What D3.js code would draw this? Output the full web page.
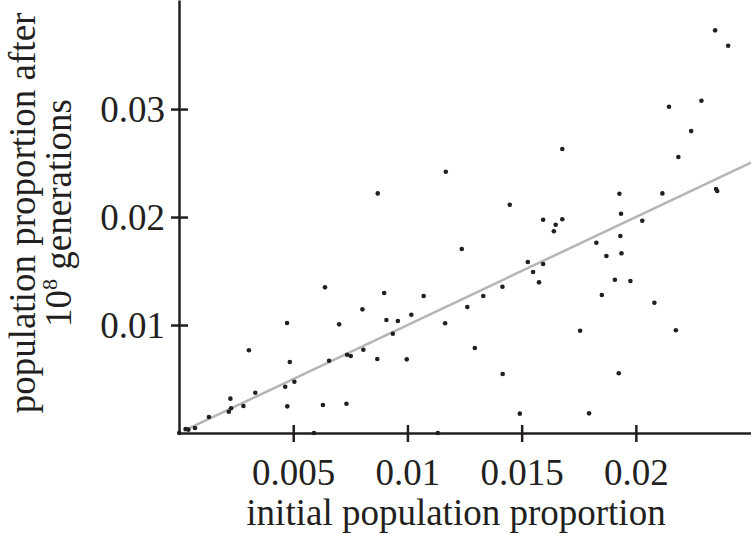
<!DOCTYPE html>
<html>
<head>
<meta charset="utf-8">
<script src="https://cdn.jsdelivr.net/npm/d3@7"></script>
<style>
  body { margin: 0; background: #fff; }
  svg text { font-family: "Liberation Serif", "Times New Roman", serif; fill: #231f20; }
</style>
</head>
<body>
<div id="chart"></div>
<script>
(function(){
  'use strict';

  //------ data
  var initialProp = [
    0.00001, 0.00029, 0.00041, 0.00070, 0.00131, 0.00218, 0.00228, 0.00225, 0.00282, 0.00306,
    0.00334, 0.00465, 0.00474, 0.00473, 0.00485, 0.00505, 0.00591, 0.00630, 0.00639, 0.00657,
    0.00701, 0.00733, 0.00736, 0.00752, 0.00803, 0.00807, 0.00868, 0.00870, 0.00898, 0.00908,
    0.00936, 0.00958, 0.00997, 0.01017, 0.01071, 0.01133, 0.01165, 0.01168, 0.01238, 0.01262,
    0.01295, 0.01332, 0.01416, 0.01417, 0.01448, 0.01492, 0.01527, 0.01550, 0.01576, 0.01594,
    0.01594, 0.01641, 0.01649, 0.01678, 0.01678, 0.01756, 0.01795, 0.01827, 0.01851, 0.01871,
    0.01908, 0.01925, 0.01928, 0.01932, 0.01935, 0.01937, 0.01976, 0.02028, 0.02081, 0.02116,
    0.02145, 0.02175, 0.02186, 0.02242, 0.02287, 0.02351, 0.02356, 0.02347, 0.02404
  ];
  var finalProp = [
    0.00000, 0.00037, 0.00031, 0.00046, 0.00148, 0.00197, 0.00229, 0.00318, 0.00250, 0.00766,
    0.00373, 0.00429, 0.00247, 0.01019, 0.00657, 0.00475, 0.00000, 0.00259, 0.01349, 0.00669,
    0.01006, 0.00271, 0.00725, 0.00713, 0.01145, 0.00771, 0.00685, 0.02219, 0.01296, 0.01046,
    0.00919, 0.01037, 0.00682, 0.01095, 0.01269, 0.00000, 0.01016, 0.02419, 0.01704, 0.01167,
    0.00787, 0.01269, 0.01355, 0.00546, 0.02114, 0.00179, 0.01583, 0.01491, 0.01395, 0.01975,
    0.01565, 0.01868, 0.01929, 0.01979, 0.02630, 0.00947, 0.00182, 0.01762, 0.01278, 0.01639,
    0.01419, 0.00553, 0.02216, 0.01824, 0.02031, 0.01664, 0.01407, 0.01966, 0.01206, 0.02219,
    0.03021, 0.00951, 0.02556, 0.02796, 0.03077, 0.02259, 0.02241, 0.03729, 0.03586
  ];
  var fitLine = [0.0002, 0.02504];   // y = x reference line

  var xTicks = [0.005, 0.01, 0.015, 0.02];
  var xTickLabels = ['0.005', '0.01', '0.015', '0.02'];
  var yTicks = [0.01, 0.02, 0.03];
  var yTickLabels = ['0.01', '0.02', '0.03'];

  var width = 751, height = 534,
      ink = '#231f20';

  var svg = d3.select('#chart').append('svg')
    .attr('width', width)
    .attr('height', height);

  var x = d3.scaleLinear().domain([0, 0.02504]).range([179, 751]);
  var y = d3.scaleLinear().domain([0, 0.0401]).range([433, 0]);

  //------ reference line
  svg.append('line')
    .attr('x1', x(fitLine[0])).attr('y1', y(fitLine[0]))
    .attr('x2', x(fitLine[1])).attr('y2', y(fitLine[1]))
    .attr('stroke', '#b5b5b5')
    .attr('stroke-width', 2.5);

  //------ points
  svg.selectAll('circle.pt')
    .data(initialProp).enter()
    .append('circle')
    .attr('class', 'pt')
    .attr('cx', function(d) { return x(d); })
    .attr('cy', function(d, i) { return y(finalProp[i]); })
    .attr('r', 2.3)
    .attr('fill', ink);

  //------ x axis
  var xAxis = svg.append('g')
    .attr('transform', 'translate(0,' + y(0) + ')')
    .call(d3.axisBottom(x).tickValues(xTicks).tickSizeOuter(0)
      .tickFormat(function(d, i) { return xTickLabels[i]; }));
  xAxis.select('.domain').attr('stroke', ink).attr('stroke-width', 2.5);
  xAxis.selectAll('.tick line')
    .attr('y1', -8).attr('y2', 9)
    .attr('stroke', ink).attr('stroke-width', 2.5);
  xAxis.selectAll('.tick text')
    .attr('y', 52).attr('dy', null)
    .attr('font-size', 37)
    .attr('fill', ink);

  //------ y axis
  var yAxis = svg.append('g')
    .attr('transform', 'translate(' + x(0) + ',0)')
    .call(d3.axisLeft(y).tickValues(yTicks).tickSizeOuter(0)
      .tickFormat(function(d, i) { return yTickLabels[i]; }));
  yAxis.select('.domain').attr('stroke', ink).attr('stroke-width', 2.5);
  yAxis.selectAll('.tick line')
    .attr('x1', -8).attr('x2', 9)
    .attr('stroke', ink).attr('stroke-width', 2.5);
  yAxis.selectAll('.tick text')
    .attr('x', -14).attr('dy', '0.34em')
    .attr('font-size', 37)
    .attr('fill', ink);

  svg.selectAll('.tick text').style('font-family', '"Liberation Serif", serif');

  //------ axis titles
  svg.append('text')
    .attr('x', 456).attr('y', 525)
    .attr('text-anchor', 'middle')
    .attr('font-size', 37)
    .text('initial population proportion');

  var yTitle = svg.append('text')
    .attr('transform', 'translate(35,213) rotate(-90)')
    .attr('text-anchor', 'middle')
    .attr('font-size', 37);
  yTitle.append('tspan')
    .attr('x', 0).attr('y', 0)
    .text('population proportion after');
  var line2 = yTitle.append('tspan')
    .attr('x', 0).attr('y', 36);
  line2.append('tspan').text('10');
  line2.append('tspan').attr('font-size', 22).attr('dy', -14).text('8');
  line2.append('tspan').attr('dy', 14).text(' generations');

})();
</script>
</body>
</html>
